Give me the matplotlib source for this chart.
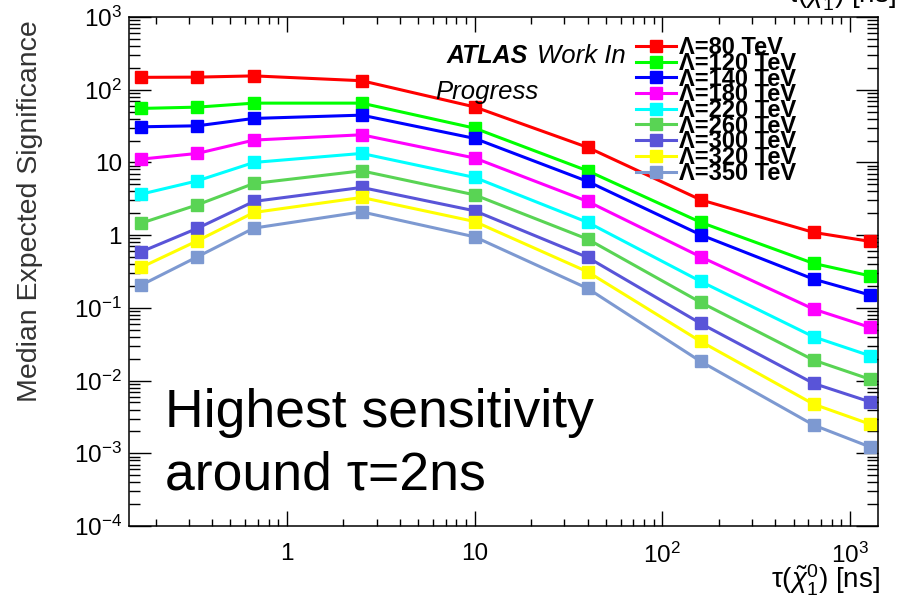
import numpy as np
import matplotlib
matplotlib.use('Agg')
import matplotlib.pyplot as plt
from matplotlib.ticker import FixedLocator, LogLocator, NullFormatter

plt.rcParams['font.family'] = ['Liberation Sans', 'DejaVu Sans']
plt.rcParams['mathtext.fontset'] = 'custom'
plt.rcParams['mathtext.rm'] = 'Liberation Sans'
plt.rcParams['mathtext.it'] = 'Liberation Sans:italic'
plt.rcParams['mathtext.bf'] = 'Liberation Sans:bold'

# neutralino lifetime points [ns]
tau = np.array([0.167, 0.333, 0.667, 2.5, 10, 40, 160, 640, 1280])

# median expected significance per Lambda
sig_80 = [148, 149, 155, 133, 58, 16.1, 3.06, 1.09, 0.82]
sig_120 = [55.3, 57.6, 65.4, 65.4, 29.6, 7.66, 1.5, 0.408, 0.275]
sig_140 = [30.9, 31.9, 40.3, 44.7, 21.4, 5.48, 1.01, 0.248, 0.150]
sig_180 = [11.1, 13.3, 20.3, 24, 11.5, 2.91, 0.503, 0.096, 0.0538]
sig_220 = [3.66, 5.58, 10, 13.3, 6.22, 1.5, 0.231, 0.0399, 0.0219]
sig_260 = [1.46, 2.61, 5.14, 7.66, 3.58, 0.881, 0.119, 0.0191, 0.0104]
sig_300 = [0.589, 1.24, 2.91, 4.53, 2.16, 0.494, 0.061, 0.00912, 0.00509]
sig_320 = [0.36, 0.835, 2.05, 3.30, 1.54, 0.313, 0.0345, 0.00473, 0.00251]
sig_350 = [0.205, 0.503, 1.25, 2.09, 0.948, 0.185, 0.0183, 0.00244, 0.00122]

lambdas = [80, 120, 140, 180, 220, 260, 300, 320, 350]
series = [sig_80, sig_120, sig_140, sig_180, sig_220, sig_260, sig_300, sig_320, sig_350]
# ROOT colours: kRed, kGreen, kBlue, kMagenta, kCyan, 8, 9, kYellow, 38
colors = ['#ff0000', '#00ff00', '#0000ff', '#ff00ff', '#00ffff',
          '#59d454', '#5954d8', '#ffff00', '#7d99d1']

y_ticks = [1e3, 1e2, 10, 1, 1e-1, 1e-2, 1e-3, 1e-4]
y_labels = ['$10^{3}$', '$10^{2}$', '10', '1', '$10^{-1}$', '$10^{-2}$', '$10^{-3}$', '$10^{-4}$']
x_ticks = [1, 10, 100, 1000]
x_labels = ['1', '10', '$10^{2}$', '$10^{3}$']

fig = plt.figure(figsize=(9.12, 6.01), dpi=100)
ax = fig.add_axes([0.1414, 0.1248, 0.8213, 0.8469])

for lam, sig, c in zip(lambdas, series, colors):
    ax.plot(tau, sig, color=c, lw=2.2, marker='s', ms=8.6, mec=c,
            label='Λ=%d TeV' % lam)

ax.set_xscale('log')
ax.set_yscale('log')
ax.set_xlim(0.144, 1408)
ax.set_ylim(1e-4, 1e3)

ax.yaxis.set_major_locator(FixedLocator(y_ticks))
ax.set_yticklabels(y_labels)
ax.xaxis.set_major_locator(FixedLocator(x_ticks))
ax.set_xticklabels(x_labels)
ax.xaxis.set_minor_locator(LogLocator(base=10, subs=np.arange(2, 10), numticks=20))
ax.yaxis.set_minor_locator(LogLocator(base=10, subs=np.arange(2, 10), numticks=20))
ax.xaxis.set_minor_formatter(NullFormatter())
ax.yaxis.set_minor_formatter(NullFormatter())

ax.tick_params(which='both', direction='in', top=True, right=True, labelsize=17.5)
ax.tick_params(axis='y', which='major', length=15.8, width=1, pad=5)
ax.tick_params(axis='y', which='minor', length=7.9, width=1)
ax.tick_params(axis='x', which='major', length=10.8, width=1, pad=12)
ax.tick_params(axis='x', which='minor', length=5, width=1)
for s in ax.spines.values():
    s.set_linewidth(1.1)

fig.text(0.033, 0.649, 'Median Expected Significance', rotation=90,
         ha='center', va='center', fontsize=20.5, color='#333333')
xlab = r'$\mathrm{\tau}(\tilde{\chi}^{0}_{1})$ [ns]'
fig.text(0.965, 0.02, xlab, ha='right', va='baseline', fontsize=20)
# bottom of a label cut off at the top edge
fig.text(0.982, 0.995, xlab, ha='right', va='baseline', fontsize=20)

fig.text(447 / 912, 1 - 63 / 601, 'ATLAS', fontsize=18, fontweight='bold', style='italic')
fig.text(537 / 912, 1 - 63 / 601, 'Work In', fontsize=18.5, style='italic')
fig.text(435 / 912, 1 - 99 / 601, 'Progress', fontsize=18.5, style='italic')

fig.text(165 / 912, 1 - 427 / 601, 'Highest sensitivity', fontsize=38.5)
fig.text(165 / 912, 1 - 490 / 601, 'around τ=2ns', fontsize=38.5)

leg = ax.legend(loc='upper left', bbox_to_anchor=(0.677, 0.962), frameon=False,
                prop={'weight': 'bold', 'size': 17}, numpoints=1,
                handlelength=1.7, handletextpad=0.1, labelspacing=-0.31,
                borderpad=0, borderaxespad=0)

fig.savefig('out.png', dpi=100)
